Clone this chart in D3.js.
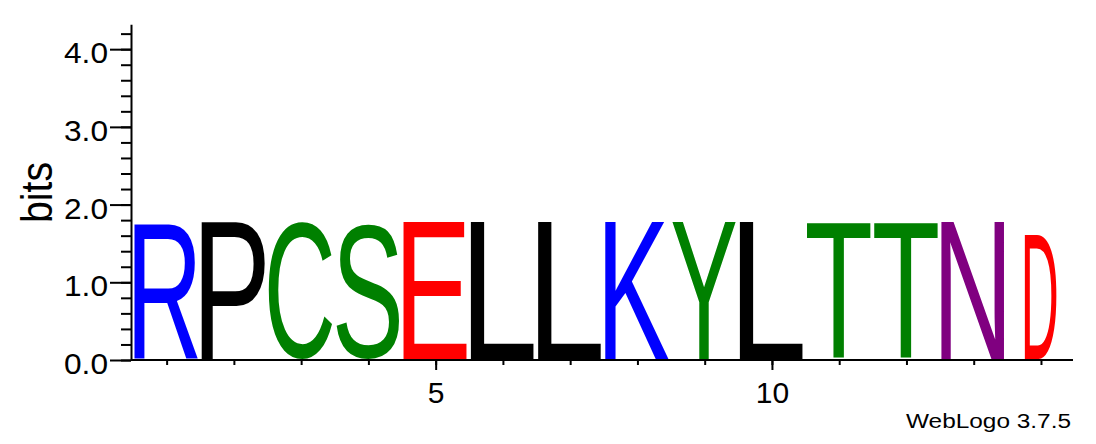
<!DOCTYPE html>
<html lang="en">

<head>
  <meta charset="UTF-8">
  <title>WebLogo</title>
  <style>
    body { margin: 0; background: #fff; }
    svg { display: block; }
  </style>
</head>

<body>
  <script src="https://d3js.org/d3.v7.min.js"></script>
  <script>
    // sequence positions, residues, stack heights (bits) and stack widths
    const positions = [1, 2, 3, 4, 5, 6, 7, 8, 9, 10, 11, 12, 13, 14];
    const residues = ['R', 'P', 'C', 'S', 'E', 'L', 'L', 'K', 'Y', 'L', 'T', 'T', 'N', 'D'];
    const bits = [1.77, 1.77, 1.77, 1.77, 1.77, 1.77, 1.77, 1.77, 1.77, 1.77, 1.77, 1.77, 1.77, 1.62];
    const stackWidths = [1, 1, 1, 1, 1, 1, 1, 1, 1, 1, 1, 1, 1, 0.5];
    const yTicks = [0, 1, 2, 3, 4];
    const yMinorTicks = d3.range(0, 4.3, 0.2);
    const xLabelTicks = [5, 10];

    const width = 1096, height = 444;
    const font = '"Liberation Sans", Arial, Helvetica, sans-serif';
    const colors = {
      R: '#0000ff', K: '#0000ff', H: '#0000ff',
      D: '#ff0000', E: '#ff0000',
      N: '#800080', Q: '#800080',
      C: '#008000', S: '#008000', G: '#008000', T: '#008000', Y: '#008000',
      P: '#000000', L: '#000000', A: '#000000', V: '#000000', I: '#000000', M: '#000000', F: '#000000', W: '#000000'
    };

    //画布
    let svg = d3.select('body')
      .append('svg')
      .attr('width', width)
      .attr('height', height);

    //比例尺
    let xScale = d3.scaleLinear().domain([0.5, 14.5]).range([133, 1074.6]);
    let yScale = d3.scaleLinear().domain([0, 4.32]).range([360, 24.3]);
    const step = xScale(2) - xScale(1);

    //y轴 - minor ticks
    svg.append('g').attr('transform', 'translate(131,0)')
      .call(d3.axisLeft(yScale).tickValues(yMinorTicks).tickSize(10).tickSizeOuter(0).tickFormat(''))
      .call(g => g.selectAll('line,path').attr('stroke', '#000').attr('stroke-width', 2));

    //y轴 - major ticks + labels
    svg.append('g').attr('transform', 'translate(131,0)')
      .call(d3.axisLeft(yScale).tickValues(yTicks).tickSize(21).tickPadding(2).tickFormat(d3.format('.1f')))
      .call(g => g.select('.domain').remove())
      .call(g => g.selectAll('line').attr('stroke', '#000').attr('stroke-width', 2))
      .call(g => g.selectAll('text')
        .attr('font-family', font).attr('font-size', 30).attr('fill', '#000')
        .attr('dy', '0.45em')
        .attr('textLength', 44).attr('lengthAdjust', 'spacingAndGlyphs'));

    //y轴标题
    svg.append('text')
      .attr('transform', 'translate(51.5,192.5) rotate(-90)')
      .attr('text-anchor', 'middle')
      .attr('font-family', font)
      .attr('font-size', 45)
      .attr('textLength', 61).attr('lengthAdjust', 'spacingAndGlyphs')
      .text('bits');

    //x轴 - ticks at each position
    svg.append('g').attr('transform', 'translate(0,360)')
      .call(d3.axisBottom(xScale).tickValues(positions).tickSize(5).tickSizeOuter(0).tickFormat(''))
      .call(g => g.select('.domain').attr('d', `M131,0H1073`))
      .call(g => g.selectAll('line,path').attr('stroke', '#000').attr('stroke-width', 2));

    //x轴 - labelled ticks
    svg.append('g').attr('transform', 'translate(0,360)')
      .call(d3.axisBottom(xScale).tickValues(xLabelTicks).tickSize(10).tickPadding(12))
      .call(g => g.select('.domain').remove())
      .call(g => g.selectAll('line').attr('stroke', '#000').attr('stroke-width', 2))
      .call(g => g.selectAll('text')
        .attr('font-family', font).attr('font-size', 30).attr('fill', '#000'));

    //字形墨迹边界
    const ctx = document.createElement('canvas').getContext('2d');
    ctx.font = `100px ${font}`;
    function inkBox(ch) {
      const m = ctx.measureText(ch);
      return {
        x0: -m.actualBoundingBoxLeft, x1: m.actualBoundingBoxRight,
        y0: -m.actualBoundingBoxAscent, y1: m.actualBoundingBoxDescent
      };
    }

    //字母堆叠
    const stacks = positions.map((p, i) => {
      const c = xScale(p), half = step / 2 * stackWidths[i];
      return {
        ch: residues[i],
        left: c - half + 1.2 * stackWidths[i],
        right: c + half - 2.2 * stackWidths[i],
        top: yScale(bits[i]),
        bottom: yScale(0) - 1
      };
    });

    svg.append('g').classed('logo', true)
      .selectAll('text').data(stacks).join('text')
      .attr('font-family', font)
      .attr('font-size', 100)
      .attr('fill', d => colors[d.ch])
      .attr('transform', d => {
        const b = inkBox(d.ch);
        const sx = (d.right - d.left) / (b.x1 - b.x0);
        const sy = (d.bottom - d.top) / (b.y1 - b.y0);
        return `translate(${d.left},${d.top}) scale(${sx},${sy}) translate(${-b.x0},${-b.y0})`;
      })
      .text(d => d.ch);

    //版本
    svg.append('text')
      .attr('x', 1071).attr('y', 428)
      .attr('text-anchor', 'end')
      .attr('font-family', font)
      .attr('font-size', 20.5)
      .attr('textLength', 165).attr('lengthAdjust', 'spacingAndGlyphs')
      .text('WebLogo 3.7.5');
  </script>
</body>

</html>
